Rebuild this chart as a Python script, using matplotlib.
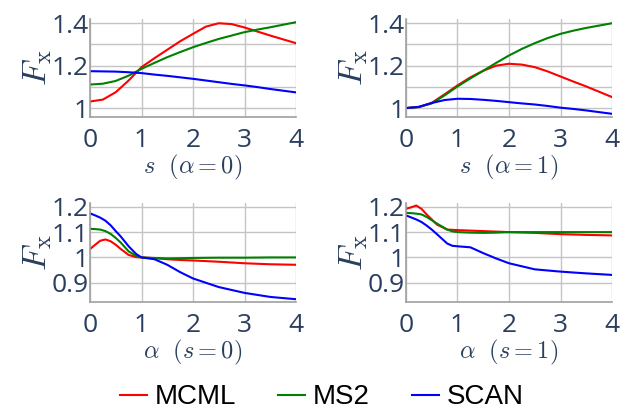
import matplotlib
matplotlib.use("Agg")
import matplotlib.pyplot as plt
from matplotlib.ticker import FixedLocator, FixedFormatter

plt.rcParams['font.family'] = ['Open Sans', 'DejaVu Sans']
plt.rcParams['mathtext.fontset'] = 'cm'

TXT = '#2a3f5f'
GRID = '#c4c4c4'
C_MCML = '#ff0000'
C_MS2 = '#008000'
C_SCAN = '#0000ff'

# --- data ---
# F_x vs s at alpha = 0
s_a0 = [0, 0.25, 0.5, 0.75, 1, 1.25, 1.5, 1.75, 2, 2.25, 2.5, 2.75, 3, 3.25, 3.5, 3.75, 4]
mcml_a0 = [1.031, 1.040, 1.075, 1.130, 1.193, 1.235, 1.275, 1.315, 1.350, 1.384, 1.400, 1.396, 1.380, 1.361, 1.342, 1.324, 1.306]
ms2_a0 = [1.111, 1.115, 1.128, 1.153, 1.185, 1.213, 1.240, 1.264, 1.287, 1.307, 1.326, 1.342, 1.358, 1.370, 1.381, 1.393, 1.405]
scan_a0 = [1.174, 1.173, 1.172, 1.169, 1.165, 1.158, 1.152, 1.145, 1.138, 1.130, 1.122, 1.114, 1.107, 1.099, 1.090, 1.082, 1.074]

# F_x vs s at alpha = 1
s_a1 = [0, 0.25, 0.5, 0.75, 1, 1.25, 1.5, 1.75, 2, 2.25, 2.5, 2.75, 3, 3.25, 3.5, 3.75, 4]
mcml_a1 = [1.0, 1.005, 1.025, 1.065, 1.107, 1.145, 1.176, 1.200, 1.209, 1.205, 1.193, 1.173, 1.149, 1.125, 1.102, 1.077, 1.052]
ms2_a1 = [1.0, 1.005, 1.022, 1.060, 1.102, 1.140, 1.176, 1.213, 1.248, 1.279, 1.306, 1.330, 1.350, 1.365, 1.378, 1.389, 1.400]
scan_a1 = [1.0, 1.006, 1.024, 1.038, 1.044, 1.043, 1.039, 1.034, 1.028, 1.022, 1.017, 1.010, 1.002, 0.996, 0.989, 0.981, 0.973]

# F_x vs alpha at s = 0
al_s0 = [0, 0.1, 0.2, 0.3, 0.4, 0.5, 0.6, 0.75, 0.9, 1, 1.25, 1.5, 1.75, 2, 2.5, 3, 3.5, 4]
mcml_s0 = [1.033, 1.050, 1.066, 1.071, 1.064, 1.050, 1.033, 1.010, 1.001, 1.0, 0.997, 0.993, 0.990, 0.988, 0.983, 0.977, 0.973, 0.971]
ms2_s0 = [1.113, 1.112, 1.110, 1.104, 1.093, 1.077, 1.058, 1.024, 1.006, 1.0, 0.998, 0.996, 0.997, 0.998, 0.999, 0.999, 1.0, 1.0]
scan_s0 = [1.174, 1.166, 1.157, 1.145, 1.127, 1.104, 1.082, 1.044, 1.013, 1.0, 0.993, 0.971, 0.942, 0.917, 0.883, 0.860, 0.844, 0.835]

# F_x vs alpha at s = 1
al_s1 = [0, 0.1, 0.2, 0.3, 0.4, 0.5, 0.6, 0.8, 0.9, 1, 1.25, 1.5, 1.75, 2, 2.5, 3, 3.5, 4]
mcml_s1 = [1.192, 1.198, 1.205, 1.192, 1.170, 1.150, 1.130, 1.110, 1.109, 1.108, 1.106, 1.104, 1.102, 1.100, 1.097, 1.092, 1.089, 1.087]
ms2_s1 = [1.176, 1.175, 1.173, 1.170, 1.160, 1.147, 1.134, 1.110, 1.103, 1.100, 1.098, 1.097, 1.098, 1.100, 1.100, 1.100, 1.100, 1.100]
scan_s1 = [1.166, 1.158, 1.150, 1.140, 1.126, 1.110, 1.092, 1.055, 1.046, 1.044, 1.040, 1.017, 0.996, 0.977, 0.953, 0.944, 0.937, 0.931]

panels = [
    (s_a0, mcml_a0, ms2_a0, scan_a0, r'$s\ \ (\alpha = 0)$', 'top'),
    (s_a1, mcml_a1, ms2_a1, scan_a1, r'$s\ \ (\alpha = 1)$', 'top'),
    (al_s0, mcml_s0, ms2_s0, scan_s0, r'$\alpha\ \ (s = 0)$', 'bottom'),
    (al_s1, mcml_s1, ms2_s1, scan_s1, r'$\alpha\ \ (s = 1)$', 'bottom'),
]

fig = plt.figure(figsize=(6.2, 4.11), dpi=100)
W, H = 620, 411
boxes = [
    (90, 19, 296, 117),
    (406, 19, 612, 117),
    (90, 203, 296, 302),
    (406, 203, 612, 302),
]

handles = []
for (x, m, g, b, xl, row), (x0, y0, x1, y1) in zip(panels, boxes):
    ax = fig.add_axes([x0 / W, 1 - y1 / H, (x1 - x0) / W, (y1 - y0) / H])
    h1, = ax.plot(x, m, color=C_MCML, lw=1.5, label='MCML')
    h2, = ax.plot(x, g, color=C_MS2, lw=1.5, label='MS2')
    h3, = ax.plot(x, b, color=C_SCAN, lw=1.5, label='SCAN')
    handles = [h1, h2, h3]
    ax.set_xlim(0, 4)
    ax.set_xticks([0, 1, 2, 3, 4])
    if row == 'top':
        ax.set_ylim(0.958, 1.42)
        ax.yaxis.set_major_locator(FixedLocator([1.0, 1.2, 1.4]))
        ax.yaxis.set_major_formatter(FixedFormatter(['1', '1.2', '1.4']))
        ax.yaxis.set_minor_locator(FixedLocator([1.1, 1.3]))
    else:
        ax.set_ylim(0.824, 1.215)
        ax.yaxis.set_major_locator(FixedLocator([0.9, 1.0, 1.1, 1.2]))
        ax.yaxis.set_major_formatter(FixedFormatter(['0.9', '1', '1.1', '1.2']))
    ax.grid(True, which='both', color=GRID, lw=1)
    ax.set_axisbelow(True)
    for sp in ['top', 'right']:
        ax.spines[sp].set_visible(False)
    for sp in ['left', 'bottom']:
        ax.spines[sp].set_color('#a0a0a0')
        ax.spines[sp].set_linewidth(1.2)
    ax.tick_params(which='both', length=0, labelcolor=TXT, labelsize=19)
    ax.tick_params(axis='x', pad=8)
    ax.tick_params(axis='y', pad=1)
    ax.set_xlabel(xl, fontsize=17.5, color=TXT, labelpad=0)
    ax.set_ylabel(r'$F_{\rm x}$', fontsize=25, color=TXT, labelpad=-2)

fig.legend(handles=handles, loc='center', bbox_to_anchor=(0.519, 0.033), ncol=3,
           frameon=False, prop={'family': 'Liberation Sans', 'size': 20},
           handlelength=0.97, handletextpad=0.3, columnspacing=1.5,
           borderpad=0, borderaxespad=0)

fig.savefig('out.png', dpi=100)
